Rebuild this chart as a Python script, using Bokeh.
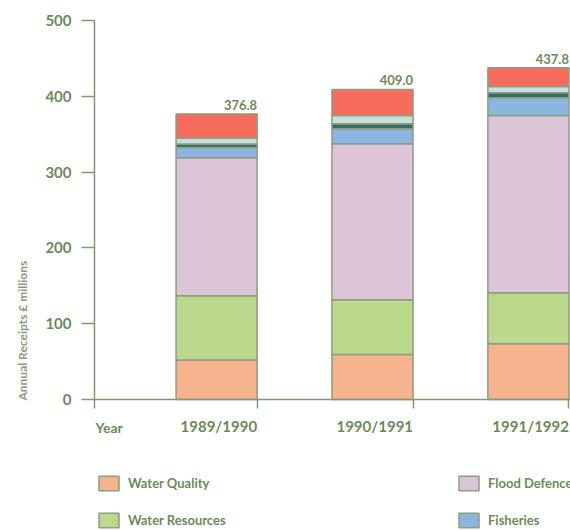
import numpy as np
from bokeh.plotting import figure
from bokeh.models import Range1d, FixedTicker, Legend, LegendItem, ColumnDataSource, Label
from bokeh.core.properties import value
from bokeh.embed import file_html
from bokeh.resources import INLINE

# ---- data ----
years = ["1989/1990", "1990/1991", "1991/1992"]
water_quality = [52.0, 59.4, 73.5]
water_resources = [85.0, 72.1, 67.3]
flood_defence = [182.0, 205.8, 233.9]
fisheries = [13.5, 19.8, 23.3]
navigation = [4.5, 6.6, 6.6]
recreation_conservation = [8.0, 11.0, 8.3]
other = [31.8, 34.3, 24.9]
totals = [376.8, 409.0, 437.8]
y_ticks = [0, 100, 200, 300, 400, 500]

series = ["Water Quality", "Water Resources", "Flood Defence", "Fisheries",
          "Navigation", "Recreation & Conservation", "Other"]
colors = ["#f5b48e", "#bcd88c", "#dcc5d9", "#8cb6e2", "#2f6f5f", "#c6e0dc", "#f86c5c"]

FONT = "Lato"
TXT = "#6d8a58"
AX = "#7f9a70"

x = np.arange(1, len(years) + 1).astype(float)
bar_w = 0.52
right_edges = list(x + bar_w / 2)

data = dict(x=x, WQ=water_quality, WR=water_resources, FD=flood_defence,
            FI=fisheries, NA=navigation, RC=recreation_conservation, OT=other,
            total=totals, xr=right_edges, label=[f"{t:.1f}" for t in totals])
src = ColumnDataSource(data)

# frame covers the whole canvas; axes drawn at fixed locations inside it
x_axis_start, x_end = 0.217, 3.27
x_start = -0.386
p = figure(width=570, height=530, output_backend="svg", toolbar_location=None,
           x_range=Range1d(x_start, x_end), y_range=Range1d(-172.8, 526.4),
           min_border=0)
p.outline_line_color = None
p.xgrid.visible = False
p.ygrid.visible = False

keys = ["WQ", "WR", "FD", "FI", "NA", "RC", "OT"]
rs = p.vbar_stack(keys, x="x", width=bar_w, source=src, fill_color=colors,
                  line_color="#8e9c80", line_width=1.5)

p.text(x="xr", y="total", text="label", source=src, text_align="right",
       text_baseline="bottom", y_offset=-4, text_font_size="13px",
       text_font_style="bold", text_color=TXT, text_font=value(FONT))

# y axis
ya = p.yaxis[0]
ya.fixed_location = x_axis_start
ya.bounds = (-12, 500)
ya.ticker = FixedTicker(ticks=y_ticks)
ya.axis_line_color = AX
ya.axis_line_width = 1.5
ya.major_tick_line_color = AX
ya.major_tick_line_width = 1.5
ya.major_tick_out = 13
ya.major_tick_in = 0
ya.minor_tick_line_color = None
ya.major_label_standoff = 10
ya.major_label_text_font = FONT
ya.major_label_text_font_size = "15px"
ya.major_label_text_font_style = "bold"
ya.major_label_text_color = TXT

# x axis (labels right-aligned to the tick at each bar's right edge)
xa = p.xaxis[0]
xa.fixed_location = 0
xa.bounds = (x_axis_start, x_end)
xa.ticker = FixedTicker(ticks=right_edges)
xa.major_label_overrides = {t: lab for t, lab in zip(right_edges, years)}
xa.major_label_orientation = 1e-6
xa.axis_line_color = AX
xa.axis_line_width = 1.5
xa.major_tick_line_color = AX
xa.major_tick_line_width = 1.5
xa.major_tick_out = 9
xa.major_tick_in = 0
xa.minor_tick_line_color = None
xa.major_label_standoff = 17
xa.major_label_text_font = FONT
xa.major_label_text_font_size = "15px"
xa.major_label_text_font_style = "bold"
xa.major_label_text_color = TXT

p.add_layout(Label(x=95, y=103, x_units="screen", y_units="screen", text="Year",
                   text_font=FONT, text_font_size="14px", text_font_style="bold",
                   text_color=TXT, text_baseline="alphabetic"))
p.add_layout(Label(x=22, y=130, x_units="screen", y_units="screen",
                   text="Annual Receipts £ millions", angle=np.pi / 2,
                   text_font=FONT, text_font_size="12px", text_font_style="bold",
                   text_color="#8a9c80", text_align="left", text_baseline="middle"))

def make_legend(items, loc):
    return Legend(items=items, location=loc, orientation="vertical",
                  glyph_width=25, glyph_height=18, spacing=19, label_standoff=7,
                  padding=0, margin=0, border_line_color=None, background_fill_alpha=0,
                  label_text_font=FONT, label_text_font_size="13px",
                  label_text_font_style="bold", label_text_color=TXT)

lg1 = make_legend([LegendItem(label=series[0], renderers=[rs[0]]),
                   LegendItem(label=series[1], renderers=[rs[1]])], (96, 1))
lg2 = make_legend([LegendItem(label=series[2], renderers=[rs[2]]),
                   LegendItem(label=series[3], renderers=[rs[3]])], (456, 1))
p.add_layout(lg1, "center")
p.add_layout(lg2, "center")

open("out.html", "w").write(file_html(p, INLINE))
